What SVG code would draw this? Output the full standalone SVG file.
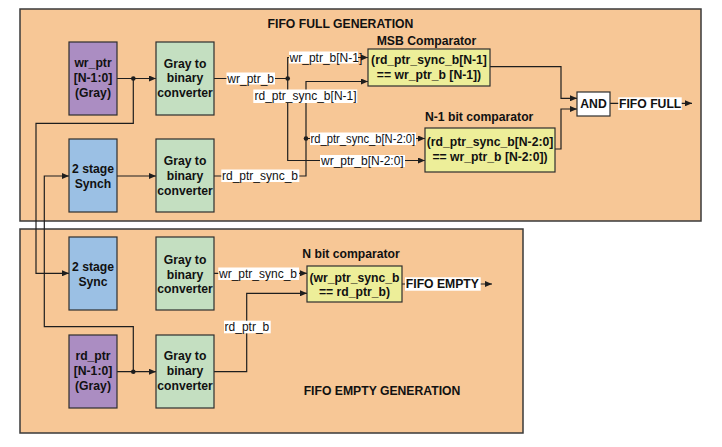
<svg xmlns="http://www.w3.org/2000/svg" width="722" height="447" viewBox="0 0 722 447">
<defs>
<marker id="arr" markerUnits="userSpaceOnUse" markerWidth="7" markerHeight="6" refX="7" refY="3" orient="auto">
<path d="M0,0 L7,3 L0,6 z" fill="#1e1e1e"/>
</marker>
<style>
.panel{fill:#F7C796;stroke:#3a3a3a;stroke-width:1.5}
.box{stroke:#2e2e2e;stroke-width:1.2}
.purple{fill:#AB8DC2}
.green{fill:#C4DFC1}
.blue{fill:#9BC0E4}
.yellow{fill:#EDEE99}
.white{fill:#ffffff}
.bt{font-family:"Liberation Sans",Arial,sans-serif;font-weight:bold;font-size:12.2px;fill:#111;text-anchor:middle}
.tt{font-family:"Liberation Sans",Arial,sans-serif;font-weight:bold;font-size:12.2px;fill:#111}
.wire{fill:none;stroke:#1e1e1e;stroke-width:1.2}
.arrow{marker-end:url(#arr)}
.lbg{fill:#ffffff}
.lt{font-family:"Liberation Sans",Arial,sans-serif;font-size:12px;fill:#111}
.lb{font-family:"Liberation Sans",Arial,sans-serif;font-size:12.2px;font-weight:bold;fill:#111}
.dot{fill:#1e1e1e}
</style>
</defs>
<rect width="722" height="447" fill="#ffffff"/>
<g id="panels">
<rect class="panel" x="20" y="9" width="681" height="212"/>
<rect class="panel" x="20" y="229" width="503" height="204"/>
<text class="bt" x="340.5" y="27.5">FIFO FULL GENERATION</text>
<text class="bt" x="382" y="394.5">FIFO EMPTY GENERATION</text>
</g>
<g id="connectors">
<path class="wire arrow" d="M117,78.5 H156"/>
<path class="wire arrow" d="M133.3,78.5 V123.3 H36 V273.3 H69"/>
<path class="wire arrow" d="M117,176 H156"/>
<path class="wire arrow" d="M117,371.7 H156"/>
<path class="wire arrow" d="M133.3,371.7 V326.7 H44.3 V176 H69"/>
<path class="wire" d="M214,78.5 H287.7"/>
<path class="wire arrow" d="M287.7,78.5 V57.5 H368"/>
<path class="wire arrow" d="M287.7,78.5 V160.5 H425"/>
<path class="wire arrow" d="M214,176 H306 V81.5 H368"/>
<path class="wire arrow" d="M306,138.5 H425"/>
<path class="wire arrow" d="M490,66.7 H561 V98.3 H577"/>
<path class="wire arrow" d="M555,149 H561 V109 H577"/>
<path class="wire arrow" d="M610,103.3 H692"/>
<path class="wire arrow" d="M214,273.3 H307"/>
<path class="wire arrow" d="M214,371.7 H246.7 V293.3 H307"/>
<path class="wire arrow" d="M402,284 H492"/>
<circle class="dot" cx="133.3" cy="78.5" r="2.3"/>
<circle class="dot" cx="287.7" cy="78.5" r="2.3"/>
<circle class="dot" cx="306" cy="138.5" r="2.3"/>
<circle class="dot" cx="133.3" cy="371.7" r="2.3"/>
<rect class="lbg" x="226.5" y="72.5" width="48.5" height="12"/>
<text class="lt" x="227.3" y="82.8">wr_ptr_b</text>
<rect class="lbg" x="289" y="51.5" width="69" height="12"/>
<text class="lt" x="289.6" y="61.6">wr_ptr_b[N-1]</text>
<rect class="lbg" x="253.3" y="89.5" width="104" height="13.5"/>
<text class="lt" x="254.5" y="100.3">rd_ptr_sync_b[N-1]</text>
<rect class="lbg" x="221.3" y="169.5" width="78" height="12.5"/>
<text class="lt" x="222" y="180.3">rd_ptr_sync_b</text>
<rect class="lbg" x="310" y="132.5" width="106" height="12.5"/>
<text class="lt" x="310.6" y="143" textLength="104.5" lengthAdjust="spacingAndGlyphs">rd_ptr_sync_b[N-2:0]</text>
<rect class="lbg" x="320" y="155" width="85" height="12"/>
<text class="lt" x="321" y="165">wr_ptr_b[N-2:0]</text>
<rect class="lbg" x="618.3" y="97.3" width="63.4" height="12.7"/>
<text class="lb" x="619" y="107.6">FIFO FULL</text>
<rect class="lbg" x="218.3" y="267.5" width="80.7" height="12.5"/>
<text class="lt" x="219" y="277.8">wr_ptr_sync_b</text>
<rect class="lbg" x="224" y="320.7" width="46.7" height="12.6"/>
<text class="lt" x="224.6" y="331">rd_ptr_b</text>
<rect class="lbg" x="405" y="277.3" width="75.7" height="13.4"/>
<text class="lb" x="405.8" y="288.4">FIFO EMPTY</text>
</g>
<g id="wr_ptr">
<rect class="box purple" x="69" y="42" width="48" height="73"/>
<text class="bt" x="93" y="67">wr_ptr</text>
<text class="bt" x="93" y="82">[N-1:0]</text>
<text class="bt" x="93" y="97">(Gray)</text>
</g>
<g id="g2b_wr">
<rect class="box green" x="156" y="42" width="58" height="73"/>
<text class="bt" x="185" y="67.5">Gray to</text>
<text class="bt" x="185" y="82">binary</text>
<text class="bt" x="185" y="96.5">converter</text>
</g>
<g id="sync_full">
<rect class="box blue" x="69" y="139" width="48" height="73"/>
<text class="bt" x="93" y="172.5">2 stage</text>
<text class="bt" x="93" y="187.5">Synch</text>
</g>
<g id="g2b_rdsync">
<rect class="box green" x="156" y="139" width="58" height="73"/>
<text class="bt" x="185" y="165">Gray to</text>
<text class="bt" x="185" y="180">binary</text>
<text class="bt" x="185" y="194.5">converter</text>
</g>
<g id="msb_cmp">
<text class="tt" x="376.7" y="45">MSB Comparator</text>
<rect class="box yellow" x="368" y="49" width="122" height="37"/>
<text class="bt" x="429" y="63.5">(rd_ptr_sync_b[N-1]</text>
<text class="bt" x="429" y="78.5">== wr_ptr_b [N-1])</text>
</g>
<g id="n1_cmp">
<text class="tt" x="425" y="121">N-1 bit comparator</text>
<rect class="box yellow" x="425" y="128" width="130" height="44"/>
<text class="bt" x="490" y="146">(rd_ptr_sync_b[N-2:0]</text>
<text class="bt" x="490" y="161">== wr_ptr_b [N-2:0])</text>
</g>
<g id="and_gate">
<rect class="box white" x="577" y="92" width="33" height="24"/>
<text class="bt" x="593.5" y="108">AND</text>
</g>
<g id="sync_empty">
<rect class="box blue" x="69" y="237" width="48" height="73"/>
<text class="bt" x="93" y="270.5">2 stage</text>
<text class="bt" x="93" y="285.5">Sync</text>
</g>
<g id="g2b_wrsync">
<rect class="box green" x="156" y="237" width="58" height="73"/>
<text class="bt" x="185" y="263.5">Gray to</text>
<text class="bt" x="185" y="278.5">binary</text>
<text class="bt" x="185" y="293">converter</text>
</g>
<g id="n_cmp">
<text class="tt" x="302.3" y="257.5">N bit comparator</text>
<rect class="box yellow" x="307" y="266" width="95" height="36"/>
<text class="bt" x="354.5" y="282">(wr_ptr_sync_b</text>
<text class="bt" x="354.5" y="296">== rd_ptr_b)</text>
</g>
<g id="rd_ptr">
<rect class="box purple" x="69" y="335" width="48" height="73"/>
<text class="bt" x="93" y="360">rd_ptr</text>
<text class="bt" x="93" y="375">[N-1:0]</text>
<text class="bt" x="93" y="390">(Gray)</text>
</g>
<g id="g2b_rd">
<rect class="box green" x="156" y="335" width="58" height="73"/>
<text class="bt" x="185" y="360">Gray to</text>
<text class="bt" x="185" y="375">binary</text>
<text class="bt" x="185" y="389.5">converter</text>
</g>
</svg>
